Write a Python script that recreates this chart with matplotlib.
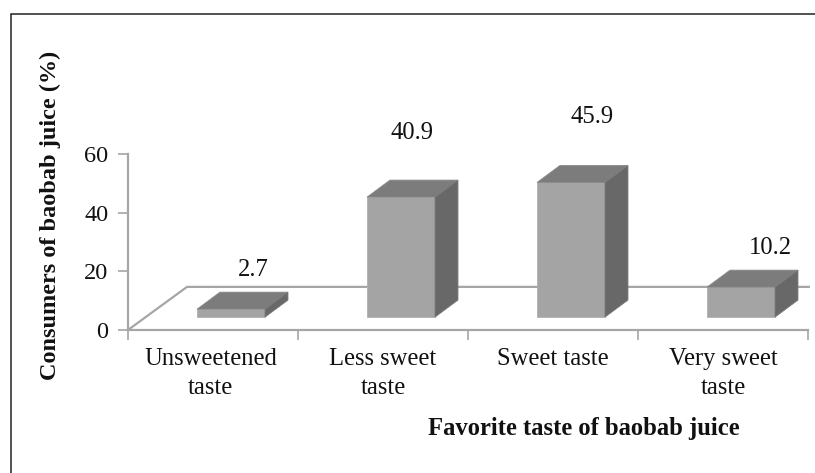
import matplotlib
matplotlib.use("Agg")
import matplotlib.pyplot as plt
from matplotlib.lines import Line2D
from matplotlib.patches import Polygon

W, H = 815, 473

categories = ["Unsweetened\ntaste", "Less sweet\ntaste", "Sweet taste", "Very sweet\ntaste"]
values = [2.7, 40.9, 45.9, 10.2]
value_labels = ["2.7", "40.9", "45.9", "10.2"]
y_ticks = [0, 20, 40, 60]

# where each value label sits relative to the bar's front top edge
label_dx = [0.13, 0.065, 0.125, 0.17]
label_dy = [7.5, 16.0, 16.6, 7.5]
# small sideways nudge of the category labels
cat_dx = [-0.015, 0, 0, 0]

FRONT = "#a4a4a4"
TOP = "#7c7c7c"
SIDE = "#686868"
AXIS = "#a6a6a6"
INK = "#111111"

plt.rcParams["font.family"] = "Liberation Serif"

fig = plt.figure(figsize=(W / 100, H / 100), dpi=100)

# frame: only the top and left edges show, both run off the figure
fig.add_artist(Line2D([11 / W, 11 / W, 1], [0, 1 - 14.5 / H, 1 - 14.5 / H], transform=fig.transFigure,
                      color="#222222", linewidth=1.1, solid_joinstyle="miter"))

ax = fig.add_axes([128 / W, 1 - 330 / H, 680 / W, 176 / H])
ax.set_xlim(0, 4)
ax.set_ylim(0, 60)

for s in ["top", "right"]:
    ax.spines[s].set_visible(False)
for s in ["left", "bottom"]:
    ax.spines[s].set_color(AXIS)
    ax.spines[s].set_linewidth(1.6)

ax.set_yticks(y_ticks)
ax.set_xticks(range(5))
ax.set_xticklabels([])
ax.tick_params(axis="y", length=7, width=1.2, color=AXIS, labelsize=17.5, pad=7, labelcolor=INK)
ax.tick_params(axis="x", length=7, width=1.2, color=AXIS)

# floor of the 3d box
floor_dx, floor_dy = 0.347, 14.7
ax.plot([0, floor_dx, 4.005], [0, floor_dy, floor_dy], color=AXIS, lw=1.6, clip_on=False, zorder=1,
        solid_joinstyle="miter")

# bars: front face, top and side
base = 4.4
left = 0.406
width = 0.4
dx, dy = 0.135, 5.8
for i, v in enumerate(values):
    x0 = i + left
    x1 = x0 + width
    y1 = base + v
    ax.add_patch(Polygon([(x0, base), (x1, base), (x1, y1), (x0, y1)], facecolor=FRONT,
                         edgecolor="#b0b0b0", lw=0.6, zorder=3, clip_on=False))
    ax.add_patch(Polygon([(x0, y1), (x1, y1), (x1 + dx, y1 + dy), (x0 + dx, y1 + dy)], facecolor=TOP,
                         edgecolor="#8a8a8a", lw=0.6, zorder=3, clip_on=False))
    ax.add_patch(Polygon([(x1, base), (x1 + dx, base + dy), (x1 + dx, y1 + dy), (x1, y1)], facecolor=SIDE,
                         edgecolor="#7a7a7a", lw=0.6, zorder=3, clip_on=False))
    ax.text(x0 + width / 2 + label_dx[i], y1 + dy + label_dy[i], value_labels[i], ha="center", va="center",
            fontsize=17.7, color=INK, clip_on=False)

for i, c in enumerate(categories):
    ax.text(i + 0.5 + cat_dx[i], -6.3, c, ha="center", va="top", fontsize=17.7, color=INK,
            linespacing=1.38, clip_on=False)

fig.text(583.5 / W, 1 - 428 / H, "Favorite taste of baobab juice", ha="center", va="center",
         fontsize=17.7, fontweight="bold", color=INK)
fig.text(50 / W, 1 - 215 / H, "Consumers of baobab juice (%)", ha="center", va="center", rotation=90,
         fontsize=17.5, fontweight="bold", color=INK)

fig.savefig("out.png", dpi=100)
